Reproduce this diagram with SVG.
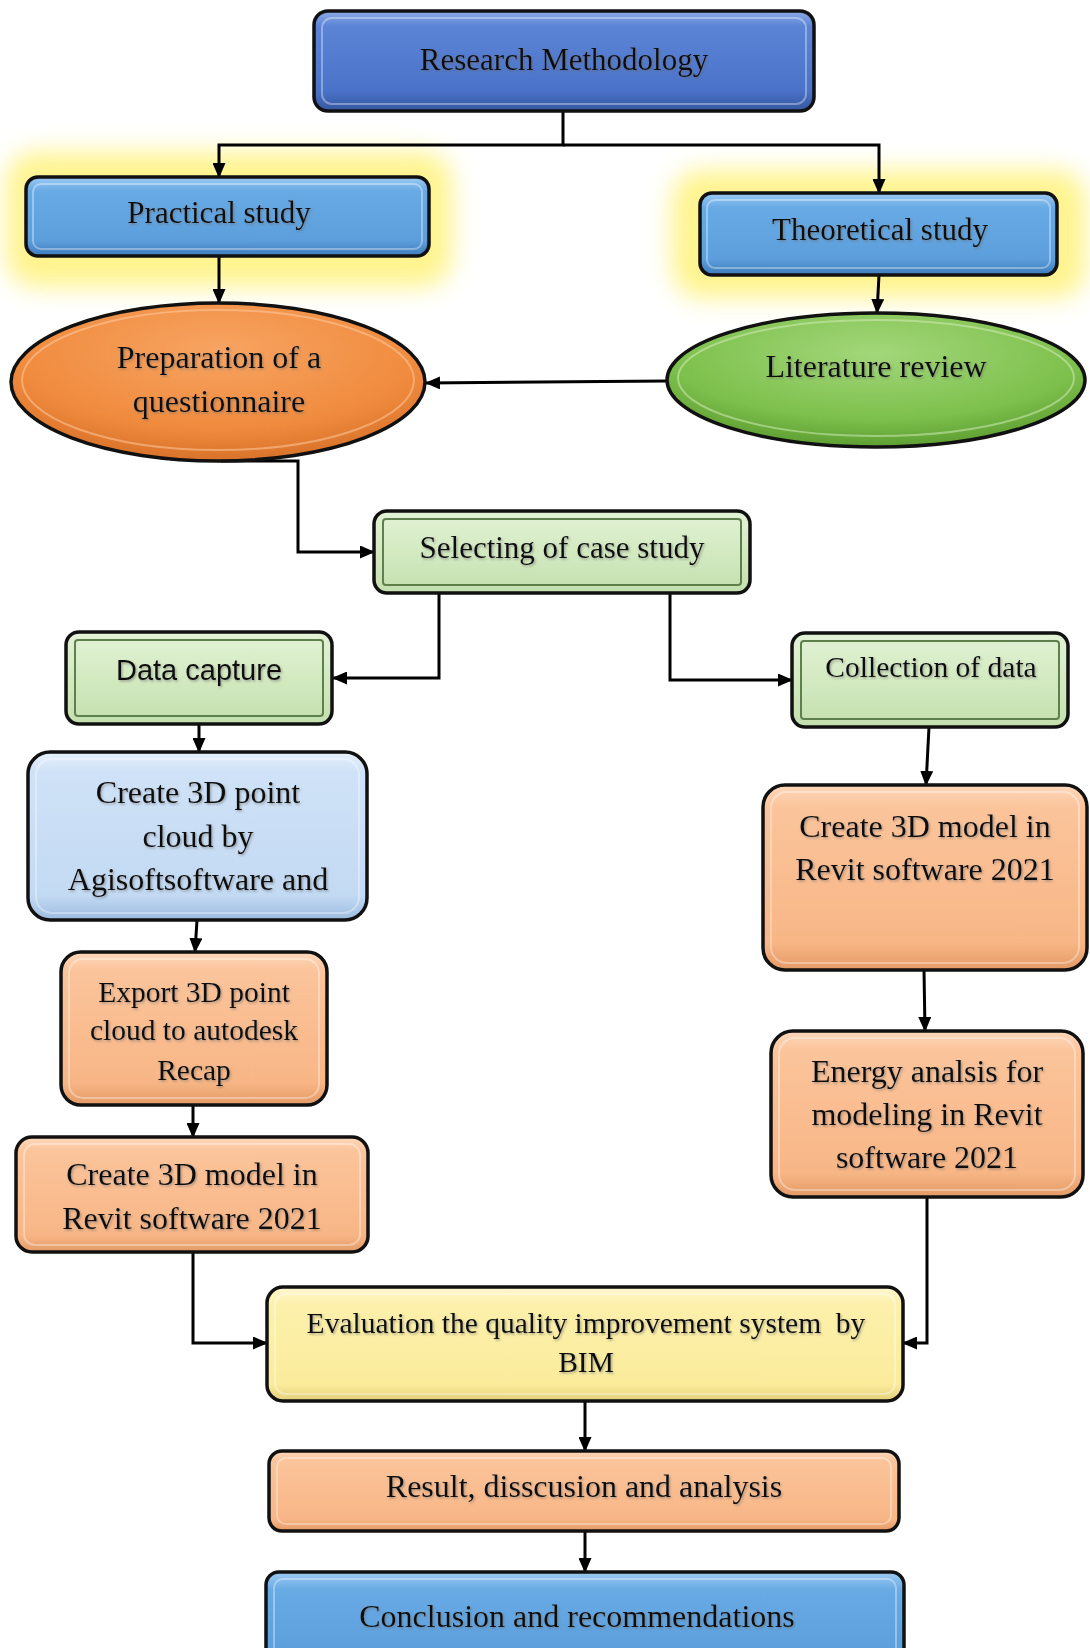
<svg xmlns="http://www.w3.org/2000/svg" width="1090" height="1648" viewBox="0 0 1090 1648">
<style>
.t{font-family:"Liberation Serif","Times New Roman",serif;fill:#111;text-anchor:middle;filter:url(#ts)}
.s{font-family:"Liberation Sans",Arial,sans-serif;fill:#111;text-anchor:middle;filter:url(#ts)}
.box{stroke:#111;stroke-width:3.5}
.bev{fill:none;stroke:#ffffff;stroke-opacity:0.35;stroke-width:2}
.gin{fill:none;stroke:#5f7f4c;stroke-width:2}
.c{fill:none;stroke:#000;stroke-width:3;marker-end:url(#ah)}
</style>
<defs>
<marker id="ah" markerUnits="userSpaceOnUse" markerWidth="15" markerHeight="13" refX="14" refY="6.5" orient="auto">
<path d="M0,0 L15,6.5 L0,13 z" fill="#000"/>
</marker>
<filter id="ts" x="-10%" y="-30%" width="120%" height="160%">
<feDropShadow dx="1.2" dy="1.5" stdDeviation="0.8" flood-color="#666" flood-opacity="0.55"/>
</filter>
<filter id="glow" x="-30%" y="-60%" width="160%" height="220%">
<feGaussianBlur stdDeviation="12"/>
</filter>
<linearGradient id="gRM" x1="0" y1="0" x2="0" y2="1">
<stop offset="0" stop-color="#8eaae6"/><stop offset="0.15" stop-color="#5c84d6"/><stop offset="0.8" stop-color="#4a72c8"/><stop offset="1" stop-color="#34569e"/>
</linearGradient>
<linearGradient id="gBl" x1="0" y1="0" x2="0" y2="1">
<stop offset="0" stop-color="#9ccaf2"/><stop offset="0.18" stop-color="#68aae4"/><stop offset="0.8" stop-color="#5d9fdc"/><stop offset="1" stop-color="#3f7cbc"/>
</linearGradient>
<linearGradient id="gPe" x1="0" y1="0" x2="0" y2="1">
<stop offset="0" stop-color="#fdd8bb"/><stop offset="0.12" stop-color="#fbc49b"/><stop offset="0.85" stop-color="#f8b686"/><stop offset="1" stop-color="#e39a66"/>
</linearGradient>
<linearGradient id="gLb" x1="0" y1="0" x2="0" y2="1">
<stop offset="0" stop-color="#e6f0fb"/><stop offset="0.12" stop-color="#cfe2f7"/><stop offset="0.85" stop-color="#c3daf3"/><stop offset="1" stop-color="#9dbbe0"/>
</linearGradient>
<linearGradient id="gYe" x1="0" y1="0" x2="0" y2="1">
<stop offset="0" stop-color="#fff7cf"/><stop offset="0.15" stop-color="#fcf0ab"/><stop offset="0.85" stop-color="#fbec9c"/><stop offset="1" stop-color="#e3cf7a"/>
</linearGradient>
<linearGradient id="gGr" x1="0" y1="0" x2="0" y2="1">
<stop offset="0" stop-color="#e2f2d6"/><stop offset="0.5" stop-color="#d3eac1"/><stop offset="1" stop-color="#c4dfae"/>
</linearGradient>
<radialGradient id="gOr" cx="0.5" cy="0.3" r="0.7">
<stop offset="0" stop-color="#f7a462"/><stop offset="0.7" stop-color="#f08b3e"/><stop offset="1" stop-color="#d9722a"/>
</radialGradient>
<radialGradient id="gGn" cx="0.5" cy="0.3" r="0.7">
<stop offset="0" stop-color="#a3d77a"/><stop offset="0.7" stop-color="#7dc04c"/><stop offset="1" stop-color="#5e9e32"/>
</radialGradient>
</defs>

<rect width="1090" height="1648" fill="#fff"/>

<g id="glows">
<rect x="6" y="152" width="446" height="135" rx="30" fill="#fff27a" opacity="0.85" filter="url(#glow)"/>
<rect x="672" y="170" width="414" height="128" rx="30" fill="#fff27a" opacity="0.85" filter="url(#glow)"/>
</g>

<g id="connectors">
<path class="c" d="M563,111 V145 H219 V177"/>
<path class="c" d="M563,145 H879 V193"/>
<path class="c" d="M219,257 V303"/>
<path class="c" d="M879,275 L877,313"/>
<path class="c" d="M667,381 L426,383"/>
<path class="c" d="M221,461 H298 V552 H374"/>
<path class="c" d="M439,593 V678 H333"/>
<path class="c" d="M670,593 V680 H792"/>
<path class="c" d="M199,724 V752"/>
<path class="c" d="M929,727 L926,785"/>
<path class="c" d="M197,920 L195,952"/>
<path class="c" d="M193,1105 V1137"/>
<path class="c" d="M924,970 L925,1031"/>
<path class="c" d="M193,1252 V1343 H267"/>
<path class="c" d="M927,1197 V1343 H903"/>
<path class="c" d="M585,1401 V1451"/>
<path class="c" d="M585,1531 V1572"/>
</g>

<g id="research-methodology">
<rect class="box" x="314" y="11" width="500" height="100" rx="14" fill="url(#gRM)"/>
<rect class="bev" x="322" y="18" width="484" height="86" rx="10"/>
<text class="t" x="564" y="70" font-size="31">Research Methodology</text>
</g>

<g id="practical-study">
<rect class="box" x="26" y="177" width="403" height="79" rx="12" fill="url(#gBl)"/>
<rect class="bev" x="33" y="184" width="389" height="65" rx="8"/>
<text class="t" x="219" y="223" font-size="31">Practical study</text>
</g>

<g id="theoretical-study">
<rect class="box" x="700" y="193" width="357" height="82" rx="12" fill="url(#gBl)"/>
<rect class="bev" x="707" y="200" width="343" height="68" rx="8"/>
<text class="t" x="880" y="240" font-size="31">Theoretical study</text>
</g>

<g id="preparation">
<ellipse cx="218" cy="382" rx="207" ry="79" fill="url(#gOr)" stroke="#111" stroke-width="3.5"/>
<ellipse cx="218" cy="380" rx="196" ry="70" fill="none" stroke="#ffd0a8" stroke-opacity="0.5" stroke-width="2"/>
<text class="t" x="219" y="368" font-size="32">Preparation of a</text>
<text class="t" x="219" y="412" font-size="32">questionnaire</text>
</g>

<g id="literature-review">
<ellipse cx="876" cy="380" rx="209" ry="67" fill="url(#gGn)" stroke="#111" stroke-width="3.5"/>
<ellipse cx="876" cy="378" rx="198" ry="58" fill="none" stroke="#d8f0c0" stroke-opacity="0.5" stroke-width="2"/>
<text class="t" x="876" y="377" font-size="32">Literature review</text>
</g>

<g id="selecting-case-study">
<rect class="box" x="374" y="511" width="376" height="82" rx="13" fill="url(#gGr)"/>
<rect class="gin" x="383" y="519" width="358" height="66" rx="3"/>
<text class="t" x="562" y="558" font-size="31">Selecting of case study</text>
</g>

<g id="data-capture">
<rect class="box" x="66" y="632" width="266" height="92" rx="13" fill="url(#gGr)"/>
<rect class="gin" x="75" y="640" width="248" height="76" rx="3"/>
<text class="s" x="199" y="680" font-size="29">Data capture</text>
</g>

<g id="collection-of-data">
<rect class="box" x="792" y="633" width="276" height="94" rx="13" fill="url(#gGr)"/>
<rect class="gin" x="801" y="641" width="258" height="78" rx="3"/>
<text class="t" x="931" y="677" font-size="29.5">Collection of data</text>
</g>

<g id="create-point-cloud">
<rect class="box" x="28" y="752" width="339" height="168" rx="22" fill="url(#gLb)"/>
<rect class="bev" x="36" y="759" width="323" height="154" rx="16"/>
<text class="t" x="198" y="803" font-size="32">Create 3D point</text>
<text class="t" x="198" y="847" font-size="32">cloud by</text>
<text class="t" x="198" y="890" font-size="32">Agisoftsoftware and</text>
</g>

<g id="create-model-right">
<rect class="box" x="763" y="785" width="324" height="185" rx="22" fill="url(#gPe)"/>
<rect class="bev" x="771" y="792" width="308" height="171" rx="16"/>
<text class="t" x="925" y="837" font-size="32">Create 3D model in</text>
<text class="t" x="925" y="880" font-size="32">Revit software 2021</text>
</g>

<g id="export-point-cloud">
<rect class="box" x="61" y="952" width="266" height="153" rx="20" fill="url(#gPe)"/>
<rect class="bev" x="69" y="959" width="250" height="139" rx="14"/>
<text class="t" x="194" y="1002" font-size="29.5">Export 3D point</text>
<text class="t" x="194" y="1040" font-size="29.5">cloud to autodesk</text>
<text class="t" x="194" y="1080" font-size="29.5">Recap</text>
</g>

<g id="create-model-left">
<rect class="box" x="16" y="1137" width="352" height="115" rx="16" fill="url(#gPe)"/>
<rect class="bev" x="24" y="1144" width="336" height="101" rx="11"/>
<text class="t" x="192" y="1185" font-size="32">Create 3D model in</text>
<text class="t" x="192" y="1229" font-size="32">Revit software 2021</text>
</g>

<g id="energy-analysis">
<rect class="box" x="771" y="1031" width="312" height="166" rx="22" fill="url(#gPe)"/>
<rect class="bev" x="779" y="1038" width="296" height="152" rx="16"/>
<text class="t" x="927" y="1082" font-size="32">Energy analsis for</text>
<text class="t" x="927" y="1125" font-size="32">modeling in Revit</text>
<text class="t" x="927" y="1168" font-size="32">software 2021</text>
</g>

<g id="evaluation">
<rect class="box" x="267" y="1287" width="636" height="114" rx="16" fill="url(#gYe)"/>
<rect class="bev" x="275" y="1294" width="620" height="100" rx="11"/>
<text class="t" x="586" y="1333" font-size="29.5" xml:space="preserve">Evaluation the quality improvement system  by</text>
<text class="t" x="586" y="1372" font-size="29.5">BIM</text>
</g>

<g id="result">
<rect class="box" x="269" y="1451" width="630" height="80" rx="13" fill="url(#gPe)"/>
<rect class="bev" x="277" y="1458" width="614" height="66" rx="9"/>
<text class="t" x="584" y="1497" font-size="32">Result, disscusion and analysis</text>
</g>

<g id="conclusion">
<rect class="box" x="266" y="1572" width="638" height="100" rx="13" fill="url(#gBl)"/>
<rect class="bev" x="274" y="1579" width="622" height="86" rx="9"/>
<text class="t" x="577" y="1627" font-size="32">Conclusion and recommendations</text>
</g>
</svg>
